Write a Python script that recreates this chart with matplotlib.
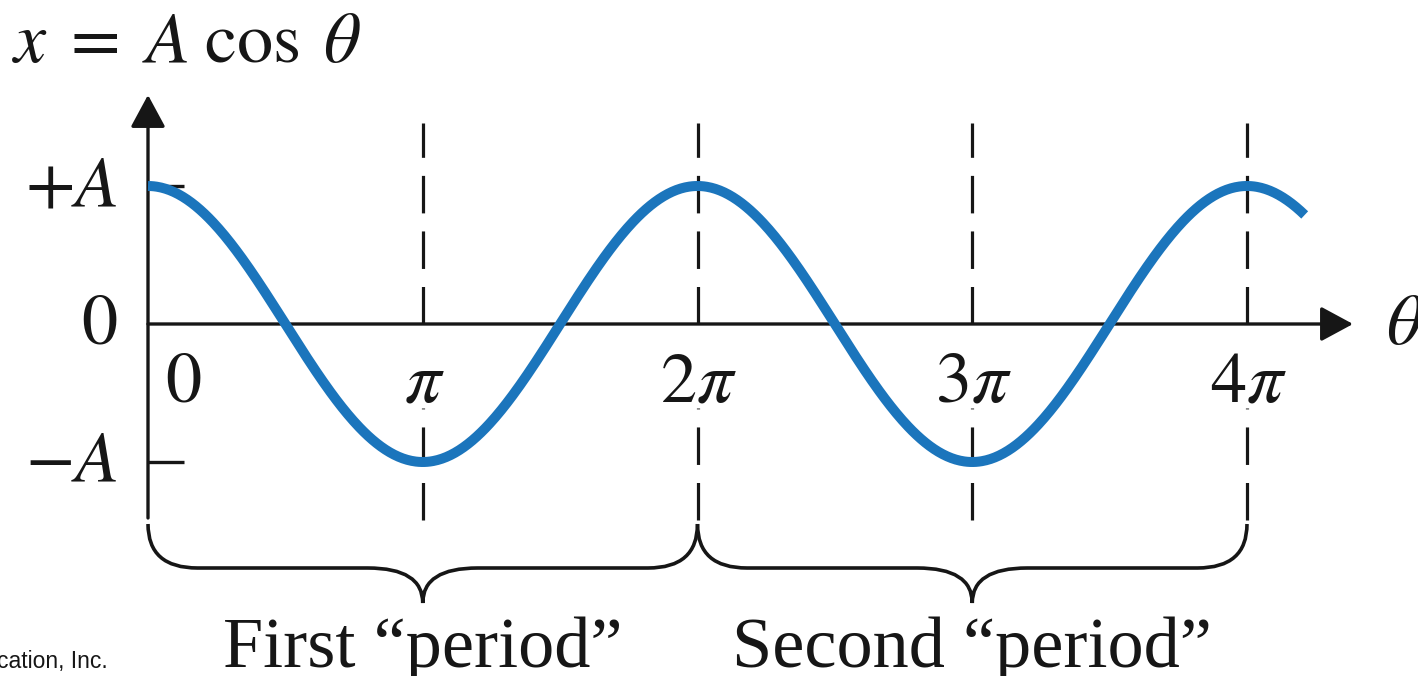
import numpy as np
import matplotlib
matplotlib.use("Agg")
import matplotlib.pyplot as plt
from matplotlib.path import Path
from matplotlib.patches import PathPatch

plt.rcParams['mathtext.fontset'] = 'stix'
plt.rcParams['lines.scale_dashes'] = False

# ---------------- data ----------------
amplitude = 1.0                       # A
theta_start = 0.0                     # in units of pi
theta_end = 4.21                      # in units of pi
x_ticks = [0, 1, 2, 3, 4]             # multiples of pi
x_tick_labels = [r'$0$', r'$\pi$', r'$2\pi$', r'$3\pi$', r'$4\pi$']
y_ticks = [1, 0, -1]                  # multiples of A
y_tick_labels = [r'$+A$', r'$0$', r'$-A$']
dashed_at = [1, 2, 3, 4]
period_bounds = [(0, 2), (2, 4)]
period_labels = ['First \u201cperiod\u201d', 'Second \u201cperiod\u201d']
title = r'$x\;=\;A\;\cos\;\theta$'
axis_label = r'$\theta$'
credit = 'cation, Inc.'

# ---------------- layout ----------------
W, H = 1418, 676
X0, SX = 148, 274.75      # pixel of theta=0, pixels per pi
Y0, SY = 324, 138         # pixel of x=0, pixels per A
def dx(px):  # pixel column -> data x
    return (px - X0) / SX
def dy(py):  # pixel row -> data y
    return (Y0 - py) / SY

ink = '#161616'
blue = '#1b75bc'
FS = 52

fig = plt.figure(figsize=(W / 100, H / 100), dpi=100)
ax = fig.add_axes([0, 0, 1, 1])
ax.set_xlim(dx(0), dx(W))
ax.set_ylim(dy(H), dy(0))
ax.axis('off')

# dashed verticals (drawn from the axis outward so dashes meet the axis)
for t in dashed_at:
    ax.plot([t, t], [0, dy(123)], color=ink, lw=2.3, dashes=(27, 13),
            solid_capstyle='butt', dash_capstyle='butt', zorder=1)
    ax.plot([t, t], [dy(520), dy(408)], color=ink, lw=2.3, dashes=(27, 13),
            dash_capstyle='butt', zorder=1)

# axes with arrows
arrow = dict(arrowstyle='-|>,head_length=1.0,head_width=0.54', color=ink,
             lw=2.4, shrinkA=0, shrinkB=0, mutation_scale=20)
ax.annotate('', xy=(0, dy(95)), xytext=(0, dy(518)), arrowprops=arrow, zorder=3)
ax.annotate('', xy=(dx(1353), 0), xytext=(0, 0), arrowprops=arrow, zorder=3)

# small ticks at +A and -A
for yv in (1, -1):
    ax.plot([0, dx(184)], [yv * amplitude, yv * amplitude], color=ink, lw=2.4,
            solid_capstyle='butt', zorder=3)

# the cosine curve
theta = np.linspace(theta_start, theta_end, 800)
ax.plot(theta, amplitude * np.cos(np.pi * theta), color=blue, lw=7.2,
        solid_capstyle='butt', zorder=4)

# tick labels
for yv, lab in zip(y_ticks, y_tick_labels):
    ax.annotate(lab, xy=(0, yv * amplitude), xytext=(-22, 0),
                textcoords='offset points', ha='right', va='center',
                fontsize=FS, color=ink)
for t, lab in zip(x_ticks, x_tick_labels):
    off = 25 if t == 0 else 1
    ax.annotate(lab, xy=(t, 0), xytext=(off, -56), textcoords='offset points',
                ha='center', va='baseline', fontsize=FS, color=ink)
ax.text(dx(1386), 0, axis_label, ha='left', va='center', fontsize=FS, color=ink)

# braces
def brace(x0, x1, ytop, ymid, ytip, rx, rxt):
    xm = (x0 + x1) / 2
    verts = [(x0, ytop), (x0, ymid), (x0 + rx, ymid),
             (xm - rxt, ymid),
             (xm, ymid), (xm, ytip),
             (xm, ymid), (xm + rxt, ymid),
             (x1 - rx, ymid),
             (x1, ymid), (x1, ytop)]
    codes = [Path.MOVETO, Path.CURVE3, Path.CURVE3, Path.LINETO,
             Path.CURVE3, Path.CURVE3, Path.CURVE3, Path.CURVE3,
             Path.LINETO, Path.CURVE3, Path.CURVE3]
    return Path(verts, codes)

for (a, b), lab in zip(period_bounds, period_labels):
    p = brace(a, b, dy(524), dy(568), dy(603), 0.18, 0.2)
    ax.add_patch(PathPatch(p, fill=False, edgecolor=ink, lw=2.6, zorder=3))
    ax.text((a + b) / 2, dy(667), lab, ha='center', va='baseline',
            fontsize=FS, color=ink, family='Liberation Serif')

# title
fig.text(12 / W, 1 - 62 / H, title, ha='left', va='baseline', fontsize=FS,
         color=ink)
# credit fragment
fig.text(-3 / W, 1 - 668 / H, credit, ha='left', va='baseline', fontsize=16.5,
         color=ink, family='Liberation Sans')

fig.savefig('out.png', dpi=100, facecolor='white')
